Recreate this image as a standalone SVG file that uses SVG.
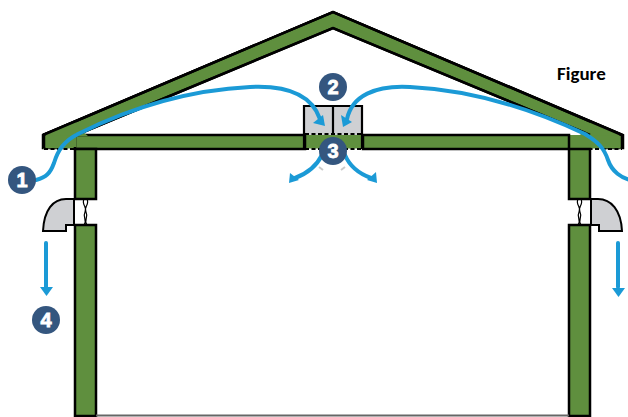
<svg xmlns="http://www.w3.org/2000/svg" width="628" height="417" viewBox="0 0 628 417">
<style>
.g{fill:#5f8f3e;stroke:#000;stroke-width:2.5;stroke-linejoin:miter}
.v{fill:#cfd0d3;stroke:#000;stroke-width:2}
.f{fill:none;stroke:#1b9ad6;stroke-width:4;stroke-linecap:round}
.h{fill:#1b9ad6}
.d{fill:none;stroke:#000;stroke-width:2;stroke-dasharray:4 2.5}
.c{fill:#34567f}
.n{font-family:"Liberation Sans",Arial,sans-serif;font-weight:700;font-size:20px;fill:#fff;text-anchor:middle;stroke:#fff;stroke-width:.8}
.fan{fill:none;stroke:#000;stroke-width:1.2}
</style>
<rect width="628" height="417" fill="#fff"/>
<g id="house">
<path class="g" d="M43 148V135L333 12L623 135V148H605V136.500L333 28L76 136.500L62 148Z" fill-rule="evenodd"/>
<path class="g" d="M43 148.500V135L333 12L622 135V148.500H569V135H363V148.500H305V135H75V148.500Z" style="stroke:none"/>
<path d="M43 135L333 12L622 135" fill="none" stroke="#000" stroke-width="2.500"/>
<path d="M76 135L333 28L590 135" fill="#fff" stroke="#000" stroke-width="2.500"/>
<rect class="g" x="75" y="135" width="230" height="14"/>
<rect class="g" x="363" y="135" width="206" height="14"/>
<rect class="g" x="569" y="135" width="53" height="0" style="stroke:none"/>
<path d="M44 135V148M622 135V148" stroke="#000" stroke-width="2.500"/>
<path d="M44 136H76V147H44ZM590 136H622V147H590Z" fill="#5f8f3e"/>
<path d="M74 136L82 131L88 136ZM594 136L586 131L578 136Z" fill="#5f8f3e"/>
<path d="M44 135L76 122L82 136ZM622 135L590 122L584 136Z" fill="#5f8f3e"/>
<path d="M43 135L333 12L622 135" fill="none" stroke="#000" stroke-width="2.500"/>
<path d="M76 135L333 28L590 135" fill="none" stroke="#000" stroke-width="2.500"/>
<path d="M44 136V148M622 136V148" stroke="#000" stroke-width="2.500"/>
<path class="d" d="M44 149H75M569 149H622"/>
</g>
<g id="wall-left">
<rect class="g" x="75" y="149" width="21" height="50"/>
<rect class="g" x="75" y="225" width="21" height="191"/>
<path class="fan" d="M84 199C81 205 88 207 85 212C82 218 88 220 84 225M87 199C90 205 83 207 86 212C89 218 83 220 87 225"/>
</g>
<g id="wall-right">
<rect class="g" x="569" y="149" width="21" height="50"/>
<rect class="g" x="569" y="225" width="21" height="191"/>
<path class="fan" d="M578 199C575 205 582 207 579 212C576 218 582 220 578 225M581 199C584 205 577 207 580 212C583 218 577 220 581 225"/>
</g>
<g id="floor"><path d="M96 415.500H569" stroke="#666" stroke-width="2"/></g>
<g id="duct-left"><path class="v" d="M74 199H66C53 199 44 210 43 231H66V225H74Z"/></g>
<g id="duct-right"><path class="v" d="M591 199H598C611 199 621 210 622 231H599V225H591Z"/></g>
<g id="fan-box">
<rect x="304" y="106" width="58" height="29" fill="#cfd0d3"/>
<path d="M304 135V106H362V135M333 106V133" fill="none" stroke="#000" stroke-width="2.200"/>
<path d="M304 135V149M362 135V149" stroke="#000" stroke-width="2.200"/>
<path class="d" d="M305 134H362M305 149H362"/>
<path d="M319 167L323 170M345 167L341 170" stroke="#c9c9c9" stroke-width="2"/>
</g>
<g id="connectors">
<path class="f" d="M36 180C46 177 50 174 54 163C58 150 64 141 78 134C130 108 190 90 250 87C290 85 312 96 320 119"/>
<path class="f" d="M630 180C622 178 612 172 608 160C604 148 598 142 585 134C530 108 470 90 410 87C375 85 352 96 347 119"/>
<path class="h" d="M325 126L313 123L323 115Z"/>
<path class="h" d="M343 127L341 115L352 122Z"/>
<path class="f" d="M322 155C316 167 306 174 295 178"/>
<path class="f" d="M345 155C350 167 360 174 371 178"/>
<path class="h" d="M289 183L290 173L299 180Z"/>
<path class="h" d="M377 183L376 172L367 180Z"/>
<path class="f" d="M46 243V289"/>
<path class="f" d="M618 243V287"/>
<path class="h" d="M40 287H53L46.500 296Z"/>
<path class="h" d="M612 288H625L618.500 297Z"/>
</g>
<g id="badge-1"><circle class="c" cx="22" cy="180" r="14"/><text class="n" x="22" y="187">1</text></g>
<g id="badge-2"><circle class="c" cx="333" cy="87" r="14"/><text class="n" x="333" y="94">2</text></g>
<g id="badge-3"><circle class="c" cx="333" cy="151" r="14"/><text class="n" x="333" y="158">3</text></g>
<g id="badge-4"><circle class="c" cx="46" cy="320" r="14"/><text class="n" x="46" y="327">4</text></g>
<text x="557" y="80" font-family="Carlito,'Liberation Sans',Arial,sans-serif" font-weight="700" font-size="19" fill="#000">Figure</text>
</svg>
